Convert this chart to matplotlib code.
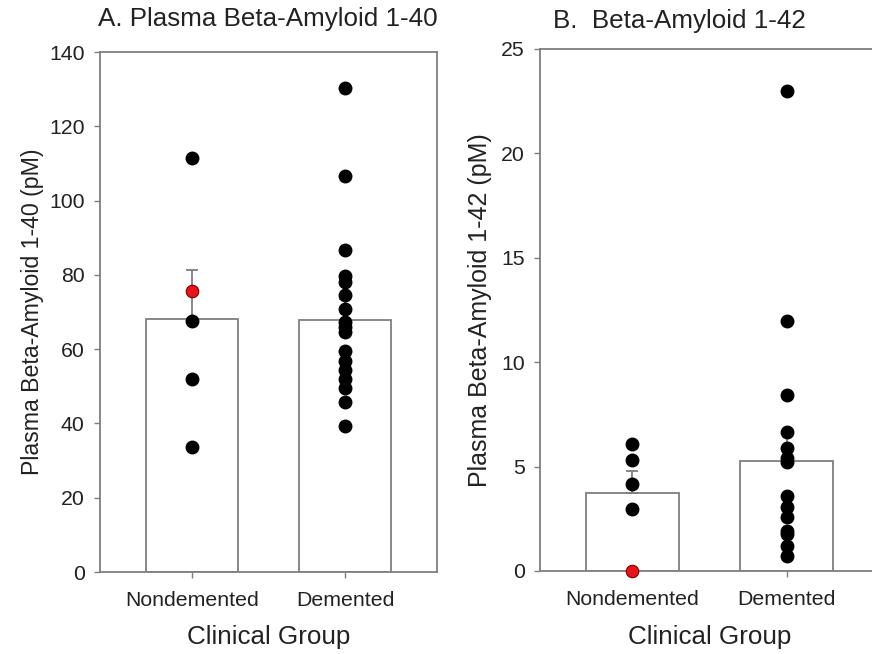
import matplotlib
matplotlib.use("Agg")
import matplotlib.pyplot as plt

plt.rcParams['font.family'] = ['Liberation Sans', 'DejaVu Sans']

categories = ["Nondemented", "Demented"]

# Panel A: Beta-Amyloid 1-40
a_means = [68.2, 67.8]
a_sems = [13.0, 5.6]
a_nondem = [111.5, 67.6, 52.0, 33.6]
a_nondem_red = [75.6]
a_dem = [130.2, 106.7, 86.7, 79.8, 78.2, 74.6, 70.8, 67.3, 65.9, 64.6,
         59.5, 56.7, 54.5, 52.0, 49.6, 45.7, 39.3]

# Panel B: Beta-Amyloid 1-42
b_means = [3.72, 5.29]
b_sems = [1.06, 1.4]
b_nondem = [6.08, 5.32, 4.18, 2.98]
b_nondem_red = [0.0]
b_dem = [22.98, 11.95, 8.41, 6.66, 5.87, 5.42, 5.21, 3.59, 3.06, 2.60,
         1.90, 1.77, 1.19, 0.71]

W, H = 872, 654
fig = plt.figure(figsize=(W / 100, H / 100), dpi=100)

def px_axes(l, t, r, b):
    return fig.add_axes([l / W, (H - b) / H, (r - l) / W, (b - t) / H])

gray = "#7f7f7f"
txt = "#222222"

def draw(ax, means, sems, nondem, red, dem, ylim, yticks, title, ylabel,
         title_x, title_y, ylabel_size, ylabel_x):
    x = list(range(len(categories)))
    ax.bar(x, means, width=0.6, color="white", edgecolor=gray, linewidth=1.3, zorder=1)
    ax.errorbar(x, means, yerr=[[0] * len(sems), sems], fmt="none", ecolor=gray,
                elinewidth=1.3, capsize=4, capthick=1.3, zorder=2)
    ax.plot([0] * len(nondem), nondem, "o", color="black", markersize=9, zorder=3,
            clip_on=False)
    ax.plot([0] * len(red), red, "o", markerfacecolor="#e8141b", markeredgecolor="#7a0000",
            markeredgewidth=0.8, markersize=9, zorder=4, clip_on=False)
    ax.plot([1] * len(dem), dem, "o", color="black", markersize=9, zorder=3, clip_on=False)
    ax.set_xlim(-0.6, 1.6)
    ax.set_ylim(*ylim)
    ax.set_yticks(yticks)
    ax.set_xticks(x)
    ax.set_xticklabels(categories, fontsize=15.3, color=txt)
    ax.tick_params(axis="y", labelsize=15.3, length=4, width=1, color=gray, pad=7,
                   labelcolor=txt)
    ax.tick_params(axis="x", length=4, width=1, color=gray, pad=10)
    for s in ax.spines.values():
        s.set_color(gray)
        s.set_linewidth(1.3)
    pos = ax.get_position()
    ax.set_xlabel("Clinical Group", fontsize=18.7, color=txt, va="center")
    ax.xaxis.set_label_coords(pos.x0 + pos.width / 2, (H - 637) / H,
                              transform=fig.transFigure)
    ax.set_ylabel(ylabel, fontsize=ylabel_size, color=txt, va="center")
    ax.yaxis.set_label_coords(ylabel_x / W, pos.y0 + pos.height / 2,
                              transform=fig.transFigure)
    fig.text(title_x / W, 1 - title_y / H, title, fontsize=18.7, ha="left", va="center",
             color=txt)

axA = px_axes(100, 52, 437, 572)
draw(axA, a_means, a_sems, a_nondem, a_nondem_red, a_dem, (0, 140),
     [0, 20, 40, 60, 80, 100, 120, 140], "A. Plasma Beta-Amyloid 1-40",
     "Plasma Beta-Amyloid 1-40 (pM)", 98, 19, 16.7, 32)

axB = px_axes(540, 49, 879, 571)
draw(axB, b_means, b_sems, b_nondem, b_nondem_red, b_dem, (0, 25),
     [0, 5, 10, 15, 20, 25], "B.  Beta-Amyloid 1-42",
     "Plasma Beta-Amyloid 1-42 (pM)", 553, 21, 18, 480)

fig.savefig("out.png", dpi=100)
